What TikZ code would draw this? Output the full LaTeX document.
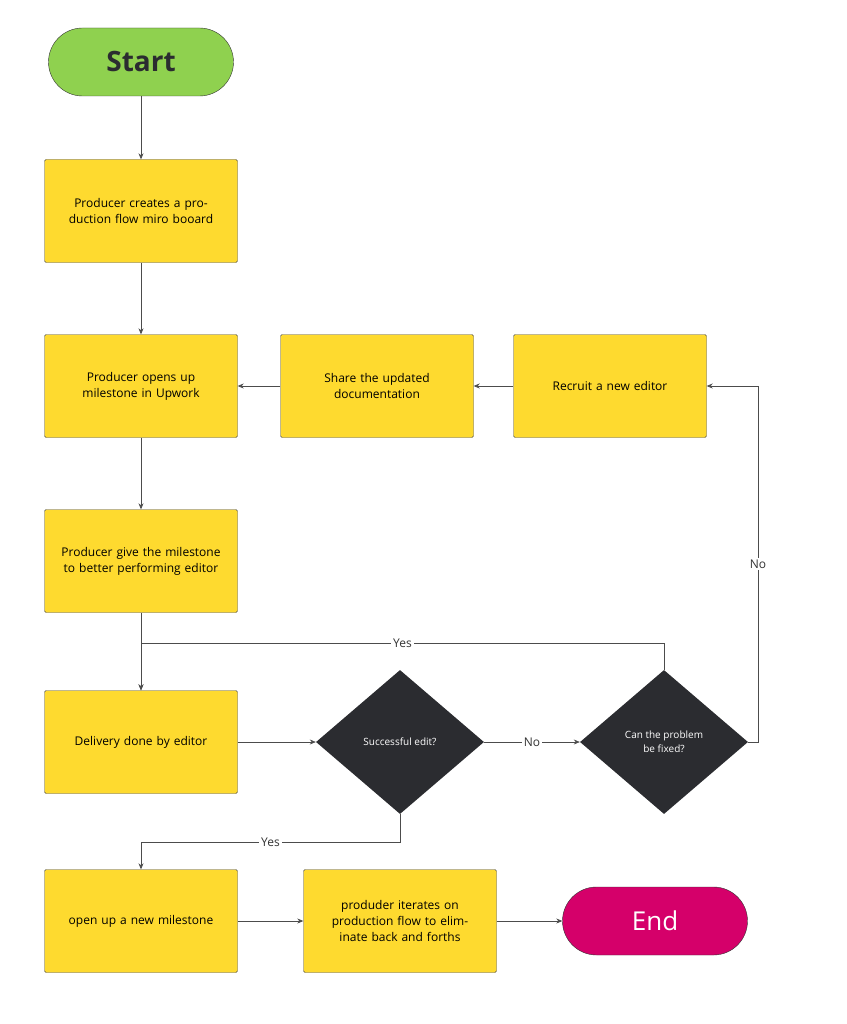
\documentclass[tikz,border=0pt]{standalone}
\usepackage{fontspec}
\setmainfont{Open Sans}
\usetikzlibrary{shapes.geometric,arrows.meta}
\definecolor{ybox}{HTML}{FEDA2F}
\definecolor{gstart}{HTML}{8FD14F}
\definecolor{mend}{HTML}{D5006A}
\definecolor{dark}{HTML}{2B2C30}
\tikzset{
 x=1pt,y=-1pt,
 box/.style={draw=black!70,fill=ybox,rounded corners=1.5pt,minimum width=193pt,minimum height=103pt,text width=180pt,align=center,font=\fontsize{12}{16}\selectfont},
 dia/.style={diamond,draw=none,fill=dark,minimum width=168pt,minimum height=144pt,aspect=1.17,text=white,align=center,font=\fontsize{10}{14}\selectfont,inner sep=0pt},
 pill/.style={draw=black!80,rounded corners=34pt,minimum width=185pt,minimum height=68pt},
 conn/.style={draw=black!70,line width=0.6pt,-{Stealth[length=6pt,width=5pt]}},
 lab/.style={fill=white,font=\fontsize{12}{14}\selectfont,text=black!80,inner sep=2pt}
}
\begin{document}
\begin{tikzpicture}
\useasboundingbox (0,0) rectangle (846,1024);
\node[pill,fill=gstart,font=\fontsize{28}{32}\selectfont\bfseries,text=dark] (start) at (141,62) {Start};
\node[box] (b1) at (141,211) {Producer creates a production flow miro booard};
\node[box] (b2) at (141,386) {Producer opens up milestone in Upwork};
\node[box] (sh) at (377,386) {Share the updated documentation};
\node[box] (rc) at (610,386) {Recruit a new editor};
\node[box] (b3) at (141,561) {Producer give the milestone to better performing editor};
\node[box] (dl) at (141,742) {Delivery done by editor};
\node[dia] (d1) at (400,742) {Successful edit?};
\node[dia] (d2) at (664,742) {Can the problem\\ be fixed?};
\node[box] (op) at (141,921) {open up a new milestone};
\node[box] (pi) at (400,921) {produder iterates on production flow to eliminate back and forths};
\node[pill,fill=mend,text=white,font=\fontsize{26}{30}\selectfont] (en) at (655,921) {End};
\draw[conn] (start) -- (b1);
\draw[conn] (b1) -- (b2);
\draw[conn] (b2) -- (b3);
\draw[conn] (b3) -- (dl);
\draw[conn] (dl) -- (d1);
\draw[conn] (d1) -- node[lab]{No} (d2);
\draw[conn] (d2.north) |- (141,643) node[lab,pos=0.75]{Yes} -- (dl.north);
\draw[conn] (d2.east) -- (758,742) |- node[lab,pos=0.25]{No} (rc.east);
\draw[conn] (rc) -- (sh);
\draw[conn] (sh) -- (b2);
\draw[conn] (d1.south) |- (141,842) node[lab,pos=0.75]{Yes} -- (op.north);
\draw[conn] (op) -- (pi);
\draw[conn] (pi) -- (en);
\end{tikzpicture}
\end{document}
